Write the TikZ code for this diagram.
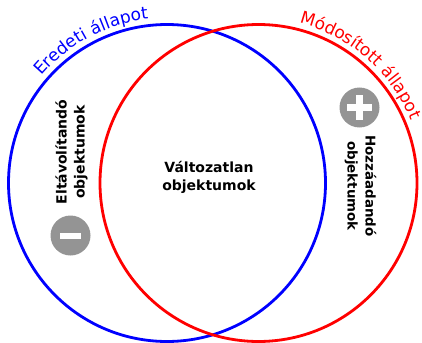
\documentclass[tikz,border=0pt]{standalone}
\usepackage{fontspec}
\setmainfont{DejaVu Sans}
\usetikzlibrary{positioning,decorations.text}
\tikzset{
	statecircle/.style={draw, circle, line width=2.8pt, inner sep=0pt, minimum size=317pt},
	setlabel/.style={font=\fontsize{14}{18}\selectfont\bfseries, align=center, inner sep=0pt},
	badge/.style={circle, fill=black!42, inner sep=0pt, minimum size=40pt},
}

\begin{document}
\begin{tikzpicture}[x=1pt, y=-1pt]
			\useasboundingbox (0,0) rectangle (422,342);
			\node[statecircle, draw=blue] (original) at (167,183) {};
			\node[statecircle, draw=red] (modified) at (258.5,183) {};

			\node[setlabel] (unchanged) at (209,177.5) {Változatlan\\objektumok};
			\node[setlabel, rotate=90] (removed) at (71.5,152) {Eltávolítandó\\objektumok};
			\node[setlabel, font=\fontsize{13.4}{18}\selectfont\bfseries, rotate=-90] (added) at (360.5,186) {Hozzáadandó\\objektumok};

			\node[badge] (minus) at (70.5,235.5) {};
			\node[badge] (plus) at (359.5,107.5) {};
			\fill[white] (60,232.5) rectangle (80.5,238.5);
			\fill[white] (347,104.2) rectangle (372,110.8);
			\fill[white] (356.2,95) rectangle (362.8,120);

			\path[decorate, decoration={text along path, text align=center,
				text={|\fontsize{17}{20}\selectfont\color{blue}|Eredeti állapot}}]
				(original.center) ++(-140:165) arc[start angle=-140, end angle=-96, radius=165];
			\path[decorate, decoration={text along path, text align=center,
				text={|\fontsize{17}{20}\selectfont\color{red}|Módosított állapot}}]
				(modified.center) ++(-76:165) arc[start angle=-76, end angle=-22, radius=165];
		\end{tikzpicture}
\end{document}
